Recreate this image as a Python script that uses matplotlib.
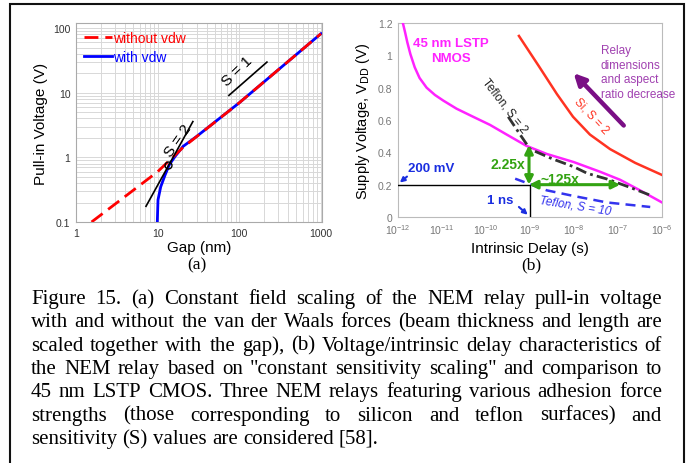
import matplotlib
matplotlib.use("Agg")
import matplotlib.pyplot as plt
from matplotlib.patches import Rectangle

W, H = 693, 464
SANS = ['Liberation Sans', 'DejaVu Sans']
SERIF = ['Liberation Serif', 'DejaVu Serif']
plt.rcParams['font.family'] = SANS

# ---------------- data (a) ----------------
gap_no_vdw = [1.55, 10, 20.5, 100, 1000]
v_no_vdw = [0.1, 0.6, 1.43, 7.0, 82]
gap_vdw = [9.9, 10.1, 10.9, 12.3, 13.9, 16.3, 20.5, 29.9, 100, 1000]
v_vdw = [0.1, 0.22, 0.35, 0.53, 0.77, 1.03, 1.48, 2.1, 7.0, 82]
s2_gap = [7.2, 27]
s2_v = [0.175, 3.58]
s1_gap = [74.6, 218]
s1_v = [9.1, 29.8]
marker_gap = [13.4]
marker_v = [0.77]

# ---------------- data (b) ----------------
cmos_delay = [1.29e-12, 1.45e-12, 1.63e-12, 1.91e-12, 2.40e-12, 3.09e-12, 4.47e-12,
              6.9e-12, 1.07e-11, 2.14e-11, 5.1e-11, 1.23e-10, 2.95e-10, 8.3e-10,
              2.4e-9, 9.8e-9, 3.9e-8, 1.12e-7, 3.16e-7, 1.0e-6]
cmos_v = [1.2, 1.142, 1.08, 1.008, 0.926, 0.86, 0.80, 0.755, 0.72, 0.67, 0.62, 0.57,
          0.51, 0.44, 0.39, 0.34, 0.28, 0.23, 0.165, 0.09]
si_delay = [5.6e-10, 1.58e-9, 4.1e-9, 9.5e-9, 2.3e-8, 6.6e-8, 2.45e-7, 1.0e-6]
si_v = [1.12, 0.934, 0.76, 0.62, 0.51, 0.42, 0.335, 0.26]
tef2_delay = [3.2e-10, 6.3e-10, 1.0e-9, 3.2e-9, 1.0e-8, 2.0e-8, 5.6e-8, 1.6e-7, 5.4e-7]
tef2_v = [0.62, 0.5, 0.42, 0.36, 0.31, 0.27, 0.235, 0.19, 0.135]
tef10_delay = [4.6e-10, 2.4e-9, 9.8e-9, 5.6e-8, 5.4e-7]
tef10_v = [0.237, 0.165, 0.13, 0.09, 0.062]
ref_delay = [1e-12, 1e-9, 1e-9]
ref_v = [0.2, 0.2, 0.0]
xticks_b = [1e-12, 1e-11, 1e-10, 1e-9, 1e-8, 1e-7, 1e-6]
yticks_b = [0, 0.2, 0.4, 0.6, 0.8, 1.0, 1.2]
yticklabels_b = ['0', '0.2', '0.4', '0.6', '0.8', '1', '1.2']

caption_lines = [
    "Figure 15. (a) Constant field scaling of the NEM relay pull-in voltage",
    "with and without the van der Waals forces (beam thickness and length are",
    "scaled together with the gap), (b) Voltage/intrinsic delay characteristics of",
    "the NEM relay based on \"constant sensitivity scaling\" and comparison to",
    "45 nm LSTP CMOS. Three NEM relays featuring various adhesion force",
    "strengths (those corresponding to silicon and teflon surfaces) and",
    "sensitivity (S) values are considered [58].",
]

fig = plt.figure(figsize=(W / 100, H / 100), dpi=100)
fig.patch.set_facecolor('white')


def fx(px):
    return px / W


def fy(py):
    return 1 - py / H


# ---------------- axes (a) ----------------
axa = fig.add_axes([fx(76), fy(223), (322 - 76) / W, (223 - 24) / H])
axa.set_xscale('log')
axa.set_yscale('log')
axa.plot(gap_vdw, v_vdw, color='#0000ff', lw=2.0, label='with vdw', zorder=3)
axa.plot(gap_no_vdw, v_no_vdw, color='#ff0000', lw=2.0, ls=(0, (5, 2.5)),
         label='without vdw', zorder=4)
axa.plot(s2_gap, s2_v, color='black', lw=1.2, zorder=5)
axa.plot(s1_gap, s1_v, color='black', lw=1.2, zorder=5)
axa.plot(marker_gap, marker_v, marker='o', mfc='none', mec='black', ms=5, mew=1.0,
         ls='none', zorder=6)
axa.text(17.8, 1.87, 'S = 2', rotation=55, fontsize=11, ha='center', va='center')
axa.text(93.5, 21.9, 'S = 1', rotation=44, fontsize=11, ha='center', va='center')
axa.set_xlim(1, 1030)
axa.set_ylim(0.1, 120)
axa.set_xticks([1, 10, 100, 1000])
axa.set_xticklabels(['1', '10', '100', '1000'])
axa.set_yticks([0.1, 1, 10, 100])
axa.set_yticklabels(['0.1', '1', '10', '100'])
axa.grid(True, which='both', color='#d8d8d8', lw=0.7)
axa.set_axisbelow(True)
axa.tick_params(which='both', length=0, labelsize=7.5, colors='#333333', pad=4)
for s in axa.spines.values():
    s.set_color('#aaaaaa')
axa.set_xlabel('Gap (nm)', fontsize=11, labelpad=2)
axa.set_ylabel('Pull-in Voltage (V)', fontsize=11, labelpad=4)
h, l = axa.get_legend_handles_labels()
leg = axa.legend([h[1], h[0]], [l[1], l[0]], loc='upper left', frameon=False,
                 handlelength=2.0, handletextpad=0.1, borderaxespad=0.2,
                 labelspacing=0.3, fontsize=10, labelcolor='linecolor')

# ---------------- axes (b) ----------------
axb = fig.add_axes([fx(398), fy(218), (662 - 398) / W, (218 - 24) / H])
axb.set_xscale('log')
axb.plot(cmos_delay, cmos_v, color='#ff22ff', lw=1.8, zorder=3)
axb.plot(si_delay, si_v, color='#ff3322', lw=1.8, zorder=3)
axb.plot(tef2_delay, tef2_v, color='#333333', lw=2.0, ls=(0, (4, 1.5, 1, 1.5)), zorder=4)
axb.plot(tef10_delay, tef10_v, color='#3333ee', lw=1.8, ls=(0, (4, 2.5)), zorder=4)
axb.plot(ref_delay, ref_v, color='black', lw=1.0, zorder=5)

green = '#33a312'
axb.annotate('', xy=(9.5e-10, 0.445), xytext=(9.5e-10, 0.2),
             arrowprops=dict(arrowstyle='<|-|>', color=green, lw=2.2,
                             mutation_scale=12, shrinkA=0, shrinkB=0), zorder=6)
axb.annotate('', xy=(1.12e-7, 0.2), xytext=(9.5e-10, 0.2),
             arrowprops=dict(arrowstyle='<|-|>', color=green, lw=2.2,
                             mutation_scale=12, shrinkA=0, shrinkB=0), zorder=6)
axb.text(8.0e-10, 0.33, '2.25x', color=green, fontsize=10, fontweight='bold',
         ha='right', va='center')
axb.text(4.8e-9, 0.237, '~125x', color=green, fontsize=10, fontweight='bold',
         ha='center', va='center')

axb.annotate('', xy=(9.8e-9, 0.89), xytext=(1.35e-7, 0.566),
             arrowprops=dict(arrowstyle='-|>', color='#7a0f85', lw=3.2,
                             mutation_scale=17, shrinkA=0, shrinkB=0))
axb.text(4.1e-8, 1.07, 'Relay\ndimensions\nand aspect\nratio decrease',
         color='#a040b0', fontsize=8.5, ha='left', va='top', linespacing=1.3)
axb.text(1.6e-11, 1.03, '45 nm LSTP\nNMOS', color='#ff22ff', fontsize=9.5,
         fontweight='bold', ha='center', va='center', linespacing=1.25)
axb.text(2.5e-8, 0.63, 'Si, S = 2', color='#ff3322', fontsize=8.5, rotation=-47,
         ha='center', va='center')
axb.text(2.7e-10, 0.69, 'Teflon, S = 2', color='#222222', fontsize=8.5, rotation=-52,
         ha='center', va='center')
axb.text(1.05e-8, 0.074, 'Teflon, S = 10', color='#3333ee', fontsize=8.5,
         rotation=-9, ha='center', va='center', style='italic')

axb.annotate('', xy=(1.1e-12, 0.213), xytext=(1.6e-12, 0.25),
             arrowprops=dict(arrowstyle='-|>', color='#1a2ee0', lw=1.5,
                             mutation_scale=7, shrinkA=0, shrinkB=0))
axb.text(1.7e-12, 0.30, '200 mV', color='#1a2ee0', fontsize=9.5, fontweight='bold',
         ha='left', va='center')
axb.annotate('', xy=(8.9e-10, 0.014), xytext=(5.6e-10, 0.062),
             arrowprops=dict(arrowstyle='-|>', color='#1a2ee0', lw=1.5,
                             mutation_scale=7, shrinkA=0, shrinkB=0))
axb.text(2.1e-10, 0.103, '1 ns', color='#1a2ee0', fontsize=9.5, fontweight='bold',
         ha='center', va='center')

axb.set_xlim(1e-12, 1e-6)
axb.set_ylim(0, 1.2)
axb.set_xticks(xticks_b)
axb.set_yticks(yticks_b)
axb.set_yticklabels(yticklabels_b)
axb.minorticks_off()
axb.tick_params(which='both', length=0, labelsize=7.5, colors='#777777', pad=4)
for s in axb.spines.values():
    s.set_color('#bbbbbb')
axb.set_xlabel('Intrinsic Delay (s)', fontsize=11, labelpad=3)
axb.set_ylabel('Supply Voltage, V$_{\\mathrm{DD}}$ (V)', fontsize=10.5, labelpad=4)

# ---------------- sublabels ----------------
fig.text(fx(197), fy(265), '(a)', family=SERIF, fontsize=12.5, ha='center', va='center')
fig.text(fx(531), fy(265), '(b)', family=SERIF, fontsize=12.5, ha='center', va='center')

# ---------------- border ----------------
fig.patches.append(Rectangle((fx(10), fy(475)), (684 - 10) / W, (475 - 5) / H,
                             transform=fig.transFigure, fill=False, ec='#111111',
                             lw=1.5))

# ---------------- justified caption ----------------
renderer = fig.canvas.get_renderer()
fs = 15.0
L, R = 31, 662
baselines = [304, 327.3, 350.7, 374, 397.3, 420.7, 444]


def width_of(s):
    t = fig.text(0, 0, s, family=SERIF, fontsize=fs)
    w = t.get_window_extent(renderer).width
    t.remove()
    return w


space_w = width_of('a a') - width_of('aa')
for i, line in enumerate(caption_lines):
    words = line.split(' ')
    texts = [fig.text(0, 0, w, family=SERIF, fontsize=fs, va='baseline', ha='left')
             for w in words]
    widths = [t.get_window_extent(renderer).width for t in texts]
    if i == len(caption_lines) - 1:
        g = space_w
    else:
        g = (R - L - sum(widths)) / (len(words) - 1)
    x = L
    for t, w in zip(texts, widths):
        t.set_position((fx(x), fy(baselines[i])))
        x += w + g

fig.savefig('out.png', dpi=100)
